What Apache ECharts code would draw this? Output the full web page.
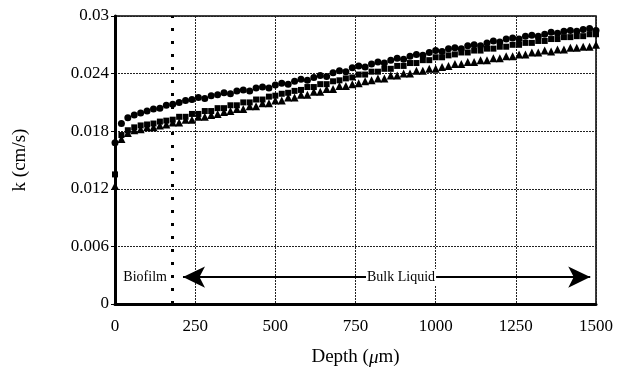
<!DOCTYPE html>
<html>
<head>
<meta charset="utf-8">
<script src="https://cdn.jsdelivr.net/npm/echarts@6/dist/echarts.min.js"></script>
<style>
  html, body { margin: 0; padding: 0; background: #fff; }
  #divChart { width: 623px; height: 374px; }
</style>
</head>
<body>
<div id="divChart"></div>
<script>
var depth = [0, 20, 40, 60, 80, 100, 120, 140, 160, 180, 200, 220, 240, 260, 280, 300, 320, 340, 360, 380,
    400, 420, 440, 460, 480, 500, 520, 540, 560, 580, 600, 620, 640, 660, 680, 700, 720, 740, 760, 780,
    800, 820, 840, 860, 880, 900, 920, 940, 960, 980, 1000, 1020, 1040, 1060, 1080, 1100, 1120, 1140, 1160, 1180,
    1200, 1220, 1240, 1260, 1280, 1300, 1320, 1340, 1360, 1380, 1400, 1420, 1440, 1460, 1480, 1500];

var kCircle = [0.0168, 0.0188, 0.0194, 0.0197, 0.0199, 0.0201, 0.0203, 0.0204, 0.0207, 0.0208,
    0.0210, 0.0212, 0.0213, 0.0215, 0.0214, 0.0217, 0.0218, 0.0220, 0.0219, 0.0222,
    0.0223, 0.0222, 0.0225, 0.0226, 0.0225, 0.0228, 0.0230, 0.0229, 0.0232, 0.0234,
    0.0233, 0.0236, 0.0238, 0.0237, 0.0241, 0.0243, 0.0242, 0.0246, 0.0248, 0.0247,
    0.0250, 0.0252, 0.0251, 0.0254, 0.0256, 0.0255, 0.0258, 0.0260, 0.0259, 0.0262,
    0.0264, 0.0263, 0.0266, 0.0267, 0.0266, 0.0269, 0.0270, 0.0269, 0.0272, 0.0274,
    0.0273, 0.0276, 0.0277, 0.0276, 0.0279, 0.0280, 0.0279, 0.0281, 0.0283, 0.0282,
    0.0284, 0.0285, 0.0284, 0.0286, 0.0287, 0.0285];

var kSquare = [0.0135, 0.0176, 0.0181, 0.0184, 0.0186, 0.0187, 0.0188, 0.0190, 0.0191, 0.0192,
    0.0195, 0.0195, 0.0198, 0.0198, 0.0201, 0.0201, 0.0204, 0.0204, 0.0207, 0.0207,
    0.0210, 0.0210, 0.0213, 0.0213, 0.0216, 0.0217, 0.0219, 0.0220, 0.0222, 0.0223,
    0.0226, 0.0226, 0.0229, 0.0229, 0.0232, 0.0233, 0.0235, 0.0236, 0.0239, 0.0239,
    0.0242, 0.0242, 0.0245, 0.0245, 0.0248, 0.0248, 0.0251, 0.0251, 0.0254, 0.0254,
    0.0257, 0.0257, 0.0259, 0.0260, 0.0262, 0.0262, 0.0264, 0.0264, 0.0266, 0.0266,
    0.0268, 0.0268, 0.0270, 0.0270, 0.0272, 0.0272, 0.0274, 0.0274, 0.0276, 0.0276,
    0.0278, 0.0278, 0.0279, 0.0279, 0.0281, 0.0281];

var kTriangle = [0.0123, 0.0172, 0.0178, 0.0181, 0.0182, 0.0184, 0.0184, 0.0186, 0.0187, 0.0189,
    0.0189, 0.0192, 0.0192, 0.0195, 0.0195, 0.0197, 0.0198, 0.0200, 0.0201, 0.0203,
    0.0203, 0.0206, 0.0206, 0.0209, 0.0209, 0.0212, 0.0212, 0.0215, 0.0215, 0.0218,
    0.0218, 0.0221, 0.0221, 0.0224, 0.0224, 0.0227, 0.0227, 0.0229, 0.0230, 0.0232,
    0.0233, 0.0235, 0.0235, 0.0238, 0.0238, 0.0240, 0.0240, 0.0243, 0.0243, 0.0245,
    0.0245, 0.0247, 0.0248, 0.0250, 0.0250, 0.0252, 0.0252, 0.0254, 0.0254, 0.0256,
    0.0256, 0.0258, 0.0258, 0.0260, 0.0260, 0.0262, 0.0262, 0.0264, 0.0263, 0.0265,
    0.0265, 0.0267, 0.0267, 0.0268, 0.0268, 0.0270];

var biofilmEdge = 180;
var arrowY = 0.0028;
var arrowFrom = 212;
var arrowTo = 1482;
var biofilmTextAt = 94;
var bulkTextAt = 892;

function pairs(ys) {
    var out = [];
    for (var i = 0; i < depth.length; ++i) {
        out.push([depth[i], ys[i]]);
    }
    return out;
}

var chart = echarts.init(document.getElementById("divChart"));
var serif = "Liberation Serif";

function textMark(text, x) {
    return {
        coord: [x, arrowY],
        label: {
            show: true,
            formatter: text,
            fontFamily: serif,
            fontSize: 14,
            color: '#000',
            backgroundColor: '#fff',
            padding: [1, 1]
        }
    };
}

var option = {
    animation: false,
    grid: {
        left: 115,
        right: 27,
        top: 16,
        bottom: 70,
        show: true,
        borderColor: '#000',
        borderWidth: 1.5
    },
    xAxis: {
        type: 'value',
        min: 0,
        max: 1500,
        interval: 250,
        name: '{n|Depth (}{i|μ}{n|m)}',
        nameLocation: 'middle',
        nameGap: 44,
        nameTextStyle: {
            rich: {
                n: { fontFamily: serif, fontSize: 19, color: '#000' },
                i: { fontFamily: serif, fontSize: 19, fontStyle: 'italic', color: '#000' }
            }
        },
        axisLine: { show: true, onZero: false, lineStyle: { color: '#000', width: 3 } },
        axisTick: { show: false },
        axisLabel: {
            fontFamily: serif, fontSize: 17, color: '#000', margin: 14,
            formatter: function (v) { return String(v); }
        },
        splitLine: { show: true, lineStyle: { color: '#222', width: 1, type: [2, 1] } }
    },
    yAxis: {
        type: 'value',
        min: 0,
        max: 0.03,
        interval: 0.006,
        name: 'k (cm/s)',
        nameLocation: 'middle',
        nameGap: 85,
        nameTextStyle: { fontFamily: serif, fontSize: 19, color: '#000' },
        axisLine: { show: true, lineStyle: { color: '#000', width: 3 } },
        axisTick: { show: true, length: 4, inside: false, lineStyle: { color: '#000' } },
        axisLabel: {
            fontFamily: serif, fontSize: 17, color: '#000', margin: 6,
            formatter: function (v) { return String(parseFloat(v.toFixed(3))); }
        },
        splitLine: { show: true, lineStyle: { color: '#222', width: 1, type: [2, 1] } }
    },
    series: [
        {
            name: 'circle',
            type: 'scatter',
            symbol: 'circle',
            symbolSize: 7,
            itemStyle: { color: '#000', opacity: 1 },
            data: pairs(kCircle),
            markLine: {
                silent: true,
                symbol: ['none', 'none'],
                label: { show: false },
                lineStyle: { color: '#000', width: 3, type: [3, 10] },
                data: [{ xAxis: biofilmEdge }]
            }
        },
        {
            name: 'square',
            type: 'scatter',
            symbol: 'rect',
            symbolSize: 6,
            itemStyle: { color: '#000', opacity: 1 },
            data: pairs(kSquare)
        },
        {
            name: 'triangle',
            type: 'scatter',
            symbol: 'triangle',
            symbolSize: 8,
            itemStyle: { color: '#000', opacity: 1 },
            data: pairs(kTriangle),
            markLine: {
                silent: true,
                symbol: ['arrow', 'arrow'],
                symbolSize: [16, 22],
                lineStyle: { color: '#000', width: 2, type: 'solid' },
                label: { show: false },
                data: [[{ coord: [arrowFrom, arrowY] }, { coord: [arrowTo, arrowY] }]]
            },
            markPoint: {
                silent: true,
                symbol: 'circle',
                symbolSize: 0,
                data: [textMark('Biofilm', biofilmTextAt), textMark('Bulk Liquid', bulkTextAt)]
            }
        }
    ]
};

chart.setOption(option);
</script>
</body>
</html>
